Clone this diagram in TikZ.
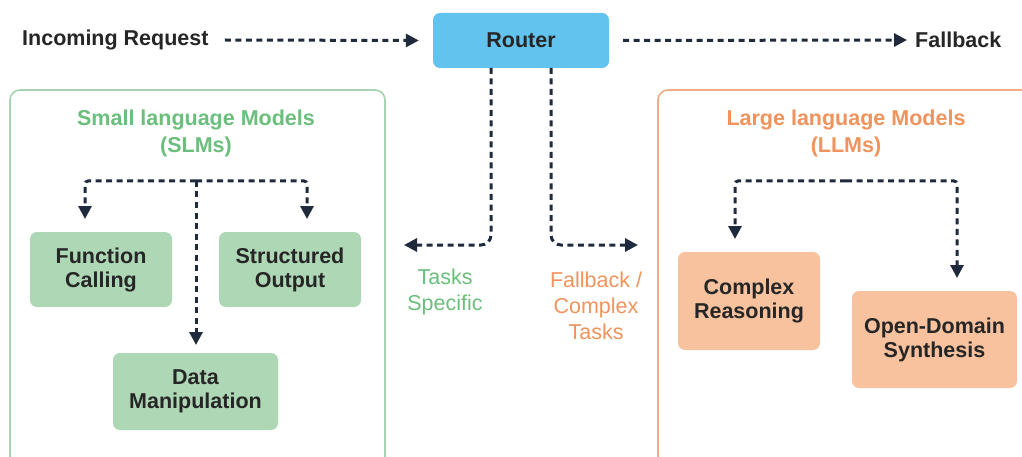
\documentclass[tikz,border=0pt]{standalone}
\usepackage{fontspec}
\setmainfont{Liberation Sans}
\usetikzlibrary{arrows.meta,calc}
\definecolor{ink}{HTML}{1F2A3C}
\definecolor{routerfill}{HTML}{62C3EE}
\definecolor{slmline}{HTML}{A6D4AE}
\definecolor{slmtext}{HTML}{6BBF7C}
\definecolor{slmfill}{HTML}{AED7B5}
\definecolor{llmline}{HTML}{F4AC80}
\definecolor{llmtext}{HTML}{F0935C}
\definecolor{llmfill}{HTML}{F9C29F}
\tikzset{
  flow/.style={ink, line width=3pt, dash pattern=on 6pt off 4.5pt,
    -{Triangle[length=13pt,width=13pt]}},
  task/.style={rounded corners=7pt, inner sep=0pt, align=center,
    font=\fontsize{21.5}{24}\selectfont\bfseries, text=black!85},
  container/.style={rounded corners=10pt, line width=1.6pt},
  plain/.style={font=\fontsize{21.5}{24}\selectfont\bfseries, inner sep=0pt, text=black!85},
}
\begin{document}
\begin{tikzpicture}[x=1pt,y=-1pt]
\useasboundingbox (0,0) rectangle (1022,457);
\clip (0,0) rectangle (1022,457);
\fill[white] (0,0) rectangle (1022,457);

% group frames, open at the bottom and right
\draw[container, slmline] (10,470) -- (10,90) -- (385,90) -- (385,470);
\draw[container, llmline] (658,470) -- (658,90) -- (1040,90);

% top row
\node[plain, anchor=west] (inreq) at (22,40) {Incoming Request};
\node[task, fill=routerfill, minimum width=176pt, minimum height=55pt] (router) at (521,40.5) {Router};
\node[plain, anchor=west] (fb) at (915,40) {Fallback};
\draw[flow] ($(inreq.east)+(16,0)$) -- ($(router.west)+(-14,0)$);
\draw[flow] ($(router.east)+(14,0)$) -- ($(fb.west)+(-8,0)$);

% group titles
\node[font=\fontsize{21.5}{27}\selectfont\bfseries, text=slmtext, align=center] (slmtitle) at (196,133) {Small language Models\\(SLMs)};
\node[font=\fontsize{21.5}{27}\selectfont\bfseries, text=llmtext, align=center] (llmtitle) at (846,133) {Large language Models\\(LLMs)};

% small model tasks
\node[task, fill=slmfill, minimum width=142pt, minimum height=75pt] (fc) at (101,269.5) {Function\\Calling};
\node[task, fill=slmfill, minimum width=142pt, minimum height=75pt] (so) at (290,269.5) {Structured\\Output};
\node[task, fill=slmfill, minimum width=165pt, minimum height=77pt] (dm) at (195.5,391.5) {Data\\Manipulation};

% large model tasks
\node[task, fill=llmfill, minimum width=142pt, minimum height=98pt] (cr) at (749,301) {Complex\\Reasoning};
\node[task, fill=llmfill, minimum width=165pt, minimum height=97pt] (od) at (934.5,339.5) {Open-Domain\\Synthesis};

% branching inside the small model group
\coordinate (sb) at (196,181);
\draw[flow, rounded corners=3pt] (sb) -- (85,181) -- (85,219);
\draw[flow, rounded corners=3pt] (sb) -- (307,181) -- (307,219);
\draw[flow] (sb) -- (196,345);

% branching inside the large model group
\coordinate (lb) at (846,181);
\draw[flow, rounded corners=3pt] (lb) -- (735,181) -- (735,239);
\draw[flow, rounded corners=3pt] (lb) -- (957,181) -- (957,278);

% router outputs
\draw[flow, rounded corners=10pt] (491,68) -- (491,245) -- (404,245);
\draw[flow, rounded corners=10pt] (551,68) -- (551,245) -- (638,245);

\node[font=\fontsize{21.5}{26}\selectfont, text=slmtext, align=center] (tslabel) at (445,292) {Tasks\\Specific};
\node[font=\fontsize{21.5}{26}\selectfont, text=llmtext, align=center] (fblabel) at (596,306) {Fallback /\\Complex\\Tasks};
\end{tikzpicture}
\end{document}
